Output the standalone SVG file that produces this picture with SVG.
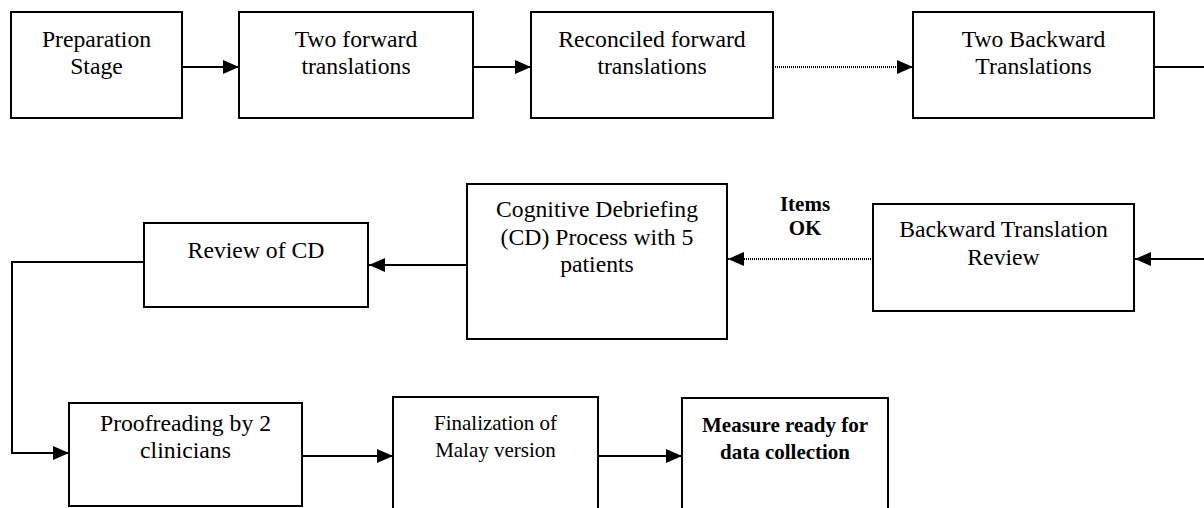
<svg xmlns="http://www.w3.org/2000/svg" width="1204" height="508" viewBox="0 0 1204 508">
<style>
.box{fill:#fff;stroke:#000;stroke-width:2}
.t{font-family:"Liberation Serif","Times New Roman",serif;font-size:23.7px;fill:#000;text-anchor:middle}
.s{font-size:21px}
.b{font-weight:bold;font-size:21px}
.c{fill:none;stroke:#000;stroke-width:2}
.d{stroke-dasharray:1 1}
</style>
<defs>
<marker id="ah" markerUnits="userSpaceOnUse" markerWidth="16" markerHeight="14" refX="16" refY="7" orient="auto">
<path d="M0,0 L16,7 L0,14 Z" fill="#000"/>
</marker>
</defs>
<rect width="1204" height="508" fill="#fff"/>
<g id="connectors">
<path class="c" d="M182,67 H239" marker-end="url(#ah)"/>
<path class="c" d="M473,67 H531" marker-end="url(#ah)"/>
<path class="c d" d="M773,67 H913" marker-end="url(#ah)"/>
<path class="c" d="M1154,67 H1204"/>
<path class="c" d="M1204,259 H1135" marker-end="url(#ah)"/>
<path class="c d" d="M873,259 H728" marker-end="url(#ah)"/>
<path class="c" d="M467,265 H369" marker-end="url(#ah)"/>
<path class="c" d="M144,262 H12 V453 H69" marker-end="url(#ah)"/>
<path class="c" d="M302,456 H393" marker-end="url(#ah)"/>
<path class="c" d="M598,456 H682" marker-end="url(#ah)"/>
<text class="t b" x="805" y="211">Items</text>
<text class="t b" x="805" y="235">OK</text>
</g>
<g id="prep">
<rect class="box" x="11" y="12" width="171" height="106"/>
<text class="t" x="96.5" y="46.5">Preparation</text>
<text class="t" x="96.5" y="74">Stage</text>
</g>
<g id="fwd">
<rect class="box" x="239" y="12" width="234" height="106"/>
<text class="t" x="356" y="46.5">Two forward</text>
<text class="t" x="356" y="74">translations</text>
</g>
<g id="recon">
<rect class="box" x="531" y="12" width="242" height="106"/>
<text class="t" x="652" y="46.5">Reconciled forward</text>
<text class="t" x="652" y="74">translations</text>
</g>
<g id="back">
<rect class="box" x="913" y="12" width="241" height="106"/>
<text class="t" x="1033.5" y="46.5">Two Backward</text>
<text class="t" x="1033.5" y="74">Translations</text>
</g>
<g id="btr">
<rect class="box" x="873" y="204" width="261" height="107"/>
<text class="t" x="1003.5" y="237">Backward Translation</text>
<text class="t" x="1003.5" y="264.5">Review</text>
</g>
<g id="cd">
<rect class="box" x="467" y="184" width="260" height="155"/>
<text class="t" x="597" y="217">Cognitive Debriefing</text>
<text class="t" x="597" y="244.5">(CD) Process with 5</text>
<text class="t" x="597" y="272">patients</text>
</g>
<g id="review">
<rect class="box" x="144" y="223" width="224" height="84"/>
<text class="t" x="256" y="258">Review of CD</text>
</g>
<g id="proof">
<rect class="box" x="69" y="403" width="233" height="103"/>
<text class="t" x="185.5" y="431">Proofreading by 2</text>
<text class="t" x="185.5" y="458">clinicians</text>
</g>
<g id="final">
<rect class="box" x="393" y="397" width="205" height="130"/>
<text class="t s" x="495.5" y="430">Finalization of</text>
<text class="t s" x="495.5" y="457">Malay version</text>
</g>
<g id="measure">
<rect class="box" x="682" y="398" width="206" height="130"/>
<text class="t b" x="785" y="432">Measure ready for</text>
<text class="t b" x="785" y="459">data collection</text>
</g>
</svg>
